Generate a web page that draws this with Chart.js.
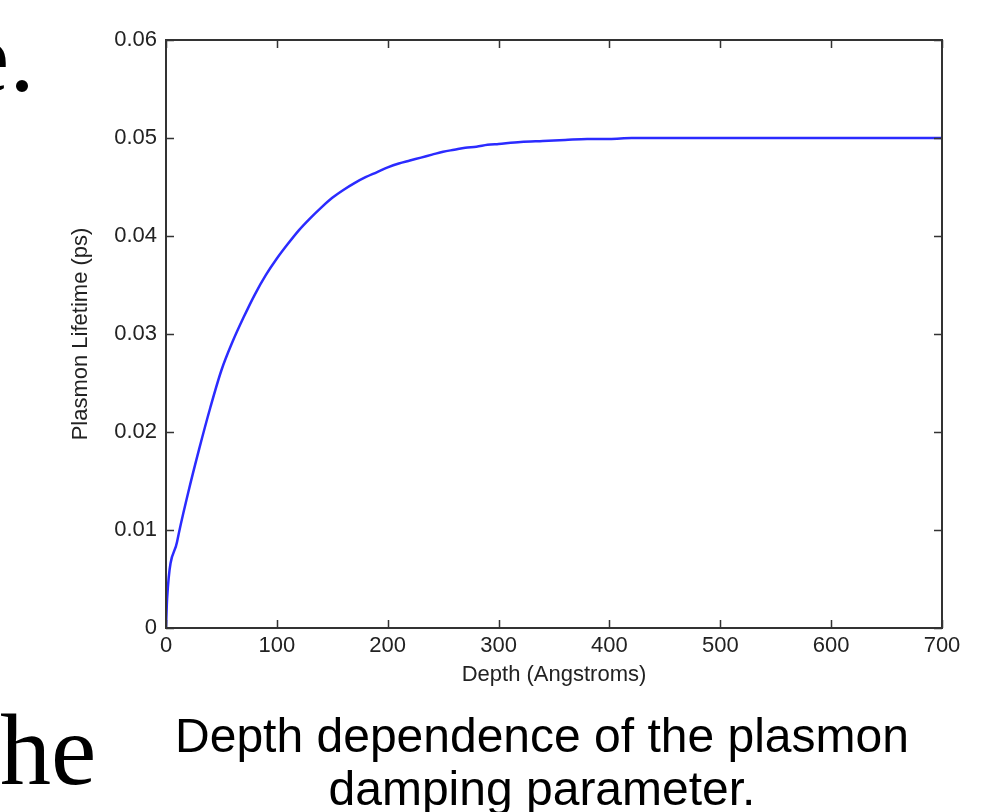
<!DOCTYPE html>
<html>
<head>
<meta charset="utf-8">
<script src="https://cdn.jsdelivr.net/npm/chart.js@4.4.1/dist/chart.umd.min.js"></script>
<style>
  html, body { margin: 0; padding: 0; background: #fff; }
  #wrap { position: relative; width: 990px; height: 812px; overflow: hidden; }
  #plot { position: absolute; left: 0; top: 0; }
  .serif { position: absolute; font-family: "Liberation Serif", "Times New Roman", serif; font-size: 102px; line-height: 102px; color: #000; white-space: nowrap; }
  #caption { position: absolute; left: 92px; top: 709px; width: 900px; text-align: center;
    font-family: "Liberation Sans", Arial, sans-serif; font-size: 48px; line-height: 53px; color: #000; }
</style>
</head>
<body>
<div id="wrap">
  <canvas id="plot" width="990" height="812"></canvas>
  <div class="serif" style="left:-36px; top:6px;">e.</div>
  <div class="serif" style="left:0px; top:699px;">he</div>
  <div id="caption">Depth dependence of the plasmon<br>damping parameter.</div>
</div>
<script>
// depth in Angstroms, lifetime in ps
var depth = [0, 1, 10, 20, 30, 40, 50, 60, 70, 80, 90, 100, 110, 120, 130, 140, 150, 160, 170, 180, 190, 200,
  210, 220, 230, 240, 250, 260, 270, 280, 290, 300, 320, 340, 360, 380, 400, 420, 500, 600, 700];
var lifetime = [0, 0.0030, 0.0088, 0.0138, 0.0183, 0.0225, 0.0263, 0.0292, 0.0317, 0.0340, 0.0360, 0.0377, 0.0392, 0.0406, 0.0418, 0.0429, 0.0439, 0.0447, 0.0454, 0.0460, 0.0465, 0.0470,
  0.0474, 0.0477, 0.0480, 0.0483, 0.0486, 0.0488, 0.0490, 0.0491, 0.0493, 0.0494, 0.0496, 0.0497, 0.0498, 0.0499, 0.0499, 0.0500, 0.0500, 0.0500, 0.0500];

var xTickLabels = ['0', '100', '200', '300', '400', '500', '600', '700'];
var yTickLabels = ['0', '0.01', '0.02', '0.03', '0.04', '0.05', '0.06'];

var points = depth.map(function (d, i) { return { x: d, y: lifetime[i] }; });

// matlab style box with inward ticks
var boxTicks = {
  id: 'boxTicks',
  afterDraw: function (chart) {
    var ctx = chart.ctx;
    var a = chart.chartArea;
    var xs = chart.scales.x, ys = chart.scales.y;
    ctx.save();
    ctx.strokeStyle = '#333';
    ctx.lineWidth = 2;
    ctx.strokeRect(a.left, a.top, a.right - a.left, a.bottom - a.top);
    ctx.lineWidth = 1.5;
    ctx.beginPath();
    xs.ticks.forEach(function (t) {
      var px = Math.round(xs.getPixelForValue(t.value)) + 0.5;
      ctx.moveTo(px, a.bottom); ctx.lineTo(px, a.bottom - 8);
      ctx.moveTo(px, a.top); ctx.lineTo(px, a.top + 8);
    });
    ys.ticks.forEach(function (t) {
      var py = Math.round(ys.getPixelForValue(t.value)) + 0.5;
      ctx.moveTo(a.left, py); ctx.lineTo(a.left + 8, py);
      ctx.moveTo(a.right, py); ctx.lineTo(a.right - 8, py);
    });
    ctx.stroke();
    ctx.restore();
  }
};

var ctx = document.getElementById('plot');
var chart = new Chart(ctx, {
  type: 'line',
  data: {
    datasets: [{
      label: 'Plasmon Lifetime',
      data: points,
      borderColor: '#2b2bff',
      borderWidth: 2.5,
      pointRadius: 0,
      cubicInterpolationMode: 'monotone',
      fill: false
    }]
  },
  options: {
    responsive: false,
    animation: false,
    layout: { padding: { left: 68, top: 40, right: 48, bottom: 124 } },
    plugins: { legend: { display: false }, tooltip: { enabled: false } },
    scales: {
      x: {
        type: 'linear', min: 0, max: 700,
        afterFit: function (s) { s.height = 60; },
        grid: { drawOnChartArea: false, drawTicks: false },
        border: { display: false },
        ticks: {
          stepSize: 100, padding: 5, color: '#222',
          font: { family: 'Liberation Sans', size: 22 },
          maxRotation: 0,
          callback: function (v) { return xTickLabels[Math.round(v / 100)]; }
        },
        title: { display: true, text: 'Depth (Angstroms)', color: '#222',
          font: { family: 'Liberation Sans', size: 22 }, padding: 0 }
      },
      y: {
        type: 'linear', min: 0, max: 0.06,
        afterFit: function (s) { s.width = 98; },
        grid: { drawOnChartArea: false, drawTicks: false },
        border: { display: false },
        ticks: {
          stepSize: 0.01, padding: 9, color: '#222',
          font: { family: 'Liberation Sans', size: 22 },
          callback: function (v) { return yTickLabels[Math.round(v * 100)]; }
        },
        title: { display: true, text: 'Plasmon Lifetime (ps)', color: '#222',
          font: { family: 'Liberation Sans', size: 22 }, padding: 0 }
      }
    }
  },
  plugins: [boxTicks]
});
</script>
</body>
</html>
